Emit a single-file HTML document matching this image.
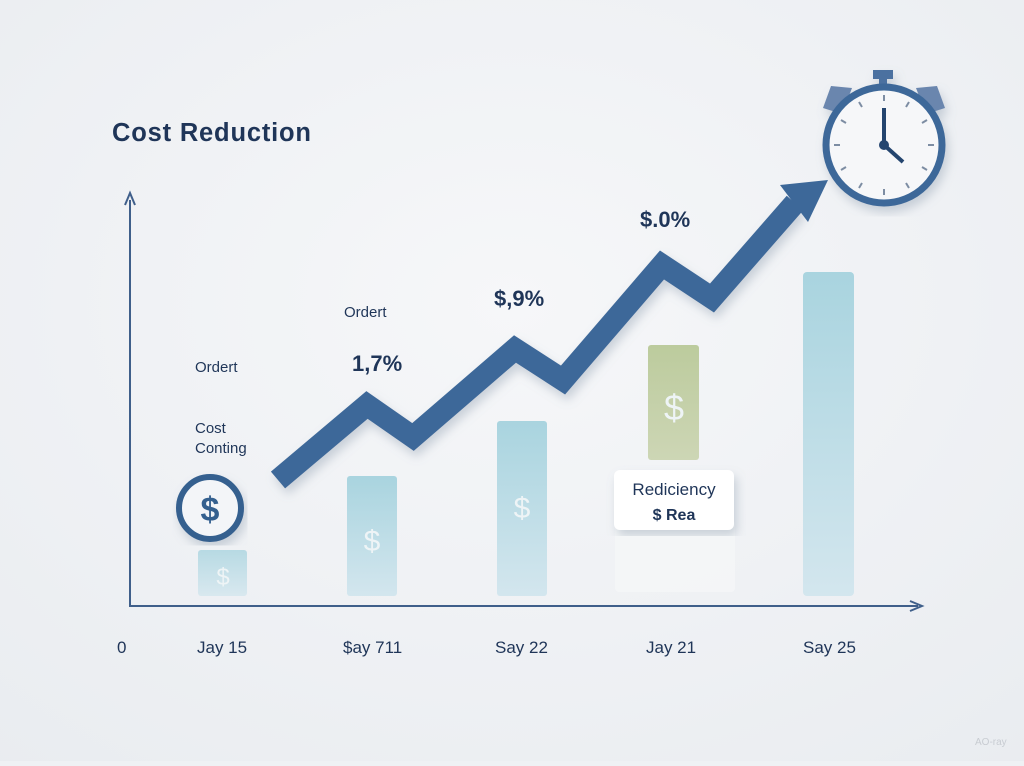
<!DOCTYPE html><html><head><style>body{margin:0;width:1024px;height:761px;overflow:hidden;background:#eff1f4}</style></head><body>
<svg width="1024" height="761" viewBox="0 0 1024 761" xmlns="http://www.w3.org/2000/svg" font-family="Liberation Sans, sans-serif">
<defs>
<radialGradient id="bg" cx="0.5" cy="0.4" r="0.8"><stop offset="0" stop-color="#f6f7f9"/><stop offset="1" stop-color="#e9ecf0"/></radialGradient>
<linearGradient id="bar" x1="0" y1="0" x2="0" y2="1"><stop offset="0" stop-color="#a9d4df"/><stop offset="1" stop-color="#d3e6ee"/></linearGradient>
<linearGradient id="gbar" x1="0" y1="0" x2="0" y2="1"><stop offset="0" stop-color="#bccb9d"/><stop offset="1" stop-color="#cdd6b5"/></linearGradient>
<filter id="sh"><feDropShadow dx="3" dy="6" stdDeviation="5" flood-color="#7a8aa0" flood-opacity="0.35"/></filter>
</defs>
<rect width="1024" height="761" fill="url(#bg)"/>
<text x="112" y="141" font-size="25.5" font-weight="bold" fill="#1f3558" textLength="199">Cost Reduction</text>
<line x1="130" y1="607" x2="130" y2="200" stroke="#3f5f8a" stroke-width="2"/>
<path d="M125 205 L130 193 L135 205" fill="none" stroke="#3f5f8a" stroke-width="2"/>
<line x1="130" y1="606" x2="918" y2="606" stroke="#3f5f8a" stroke-width="2"/>
<path d="M910 601 L922 606 L910 611" fill="none" stroke="#3f5f8a" stroke-width="2"/>
<rect x="198" y="550" width="49" height="46" rx="3" fill="url(#bar)" opacity="0.8"/>
<rect x="347" y="476" width="50" height="120" rx="3" fill="url(#bar)"/>
<rect x="497" y="421" width="50" height="175" rx="3" fill="url(#bar)"/>
<rect x="648" y="345" width="51" height="115" rx="3" fill="url(#gbar)"/>
<rect x="615" y="520" width="120" height="72" rx="4" fill="#f5f6f8" opacity="0.8"/>
<rect x="803" y="272" width="51" height="324" rx="4" fill="url(#bar)"/>
<g font-size="30" fill="#eef4f6" text-anchor="middle"><text x="223" y="585" font-size="24">$</text><text x="372" y="551">$</text><text x="522" y="518">$</text><text x="674" y="420" font-size="36">$</text></g>
<rect x="614" y="470" width="120" height="60" rx="6" fill="#fff" filter="url(#sh)"/>
<text x="674" y="495" font-size="17" fill="#1f3558" text-anchor="middle">Rediciency</text>
<text x="674" y="520" font-size="16" font-weight="bold" fill="#1f3558" text-anchor="middle">$ Rea</text>
<polyline points="278,480 367,405 413,437 515,349 563,380 662,265 712,298 795,203" fill="none" stroke="#3d6899" stroke-width="22" stroke-linejoin="miter" filter="url(#sh)"/>
<polygon points="780,185 828,180 808,222" fill="#3d6899"/>
<circle cx="210" cy="508" r="31" fill="#f3f5f8" stroke="#34608f" stroke-width="6" filter="url(#sh)"/>
<text x="210" y="521" font-size="34" font-weight="bold" fill="#34608f" text-anchor="middle">$</text>
<g filter="url(#sh)">
<rect x="873" y="70" width="20" height="9" fill="#4b71a0"/><rect x="879" y="76" width="8" height="10" fill="#4b71a0"/>
<path d="M823 108 L831 86 L852 88 L842 114 Z" fill="#6a86ae"/><path d="M945 108 L937 86 L916 88 L926 114 Z" fill="#6a86ae"/>
<circle cx="884" cy="145" r="58" fill="#f6f7f9" stroke="#3d6899" stroke-width="7"/>
</g>
<g stroke="#7d8da3" stroke-width="2"><line x1="884" y1="95" x2="884" y2="101"/><line x1="884" y1="189" x2="884" y2="195"/><line x1="834" y1="145" x2="840" y2="145"/><line x1="928" y1="145" x2="934" y2="145"/>
<line x1="909" y1="102" x2="906" y2="107"/><line x1="927" y1="120" x2="922" y2="123"/><line x1="927" y1="170" x2="922" y2="167"/><line x1="909" y1="188" x2="906" y2="183"/>
<line x1="859" y1="102" x2="862" y2="107"/><line x1="841" y1="120" x2="846" y2="123"/><line x1="841" y1="170" x2="846" y2="167"/><line x1="859" y1="188" x2="862" y2="183"/></g>
<line x1="884" y1="145" x2="884" y2="108" stroke="#24456f" stroke-width="4"/>
<line x1="884" y1="145" x2="903" y2="162" stroke="#24456f" stroke-width="4"/>
<circle cx="884" cy="145" r="5" fill="#24456f"/>
<g fill="#1f3558">
<text x="344" y="317" font-size="15">Ordert</text>
<text x="195" y="372" font-size="15">Ordert</text>
<text x="195" y="433" font-size="15">Cost</text>
<text x="195" y="453" font-size="15">Conting</text>
<text x="352" y="371" font-size="22" font-weight="bold">1,7%</text>
<text x="494" y="306" font-size="22" font-weight="bold">$,9%</text>
<text x="640" y="227" font-size="22" font-weight="bold">$.0%</text>
<g font-size="17"><text x="117" y="653">0</text><text x="197" y="653">Jay 15</text><text x="343" y="653">$ay 711</text><text x="495" y="653">Say 22</text><text x="646" y="653">Jay 21</text><text x="803" y="653">Say 25</text></g>
</g>
<text x="975" y="745" font-size="10" fill="#c8ccd2">AO-ray</text>
</svg></body></html>
